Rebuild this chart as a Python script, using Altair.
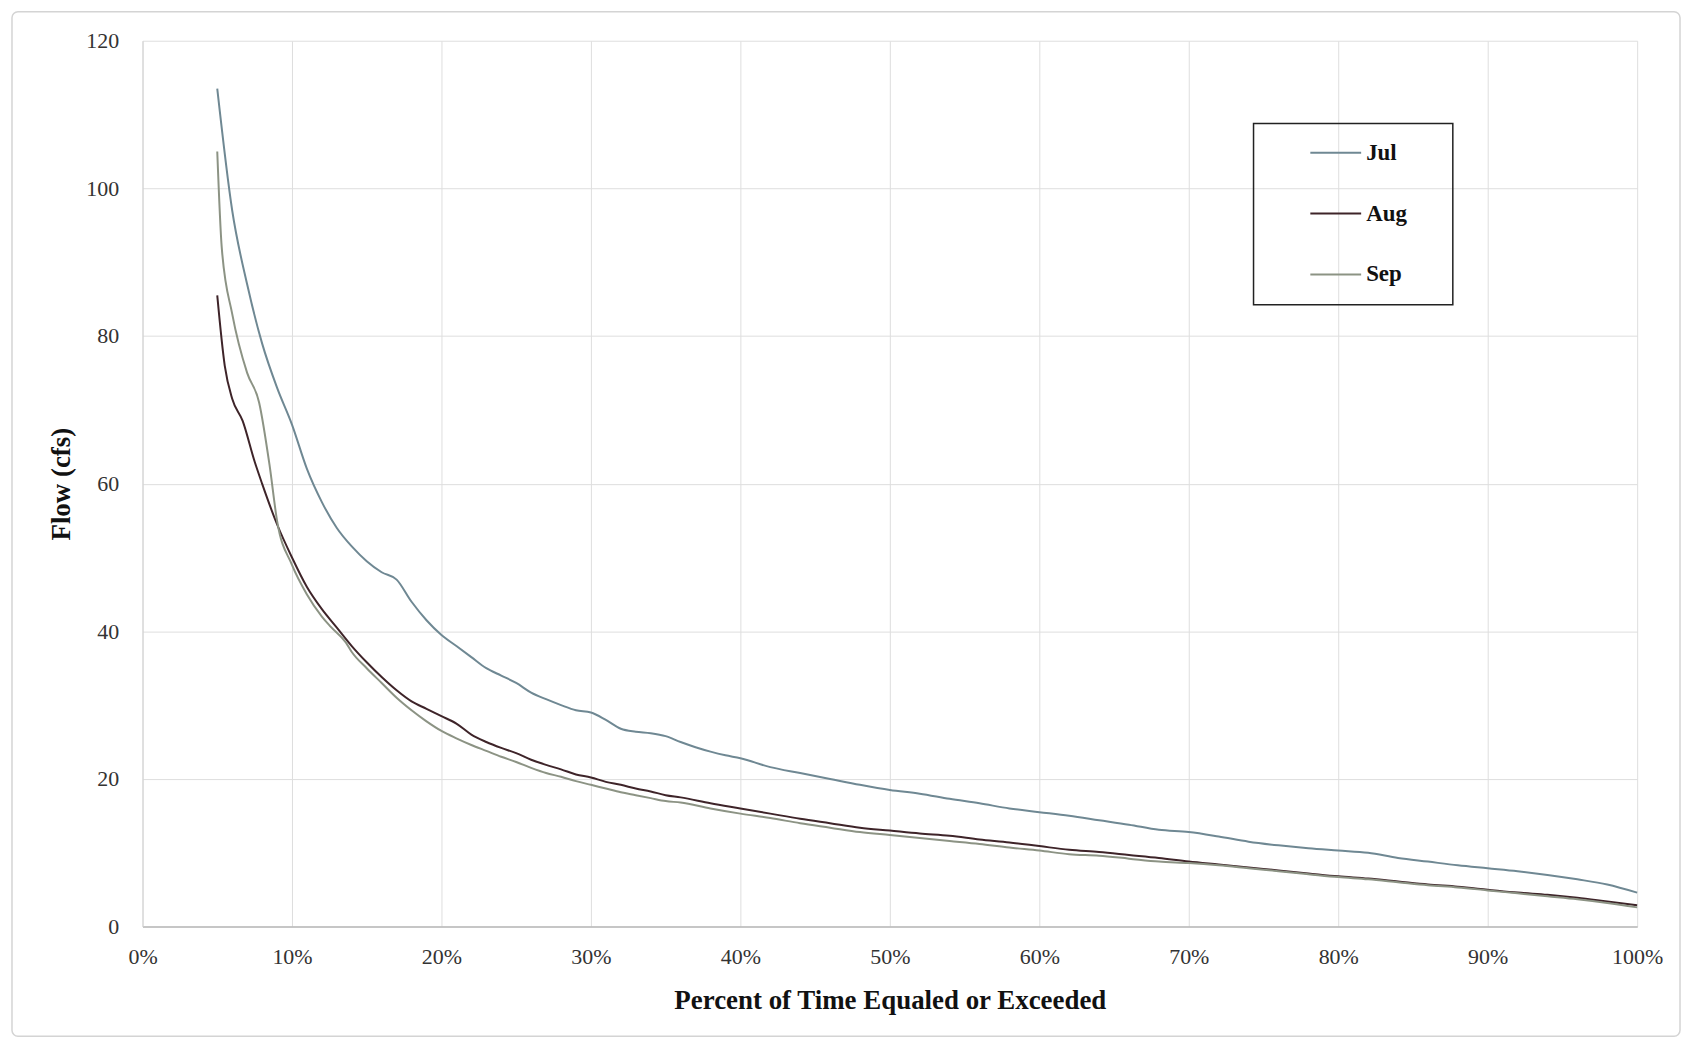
import altair as alt
import pandas as pd

# Percent of time equaled or exceeded (x, in %) and flow (cfs)
jul_x = [5, 6, 7, 8, 9, 10, 11, 12, 13, 14, 15, 16, 17, 18, 19, 20, 21, 22, 23, 24, 25,
         26, 27, 28, 29, 30, 31, 32, 33, 34, 35, 36, 37, 38, 39, 40, 42, 44, 46, 48, 50,
         52, 54, 56, 58, 60, 62, 64, 66, 68, 70, 72, 74, 76, 78, 80, 82, 84, 86, 88, 90,
         92, 94, 96, 98, 100]
jul_y = [113.5, 97, 87, 79, 73, 68, 62, 57.5, 54, 51.5, 49.5, 48, 47, 44, 41.5, 39.5, 38, 36.5, 35, 34, 33,
         31.7, 30.8, 30, 29.3, 29, 28, 26.8, 26.4, 26.2, 25.8, 25, 24.3, 23.7, 23.2, 22.8, 21.6, 20.8, 20, 19.2, 18.5,
         18, 17.3, 16.7, 16, 15.5, 15, 14.4, 13.8, 13.1, 12.8, 12.2, 11.5, 11, 10.6, 10.3, 10, 9.3, 8.8, 8.3, 7.9,
         7.5, 7, 6.4, 5.7, 4.6]

aug_x = [5, 5.5, 6, 6.7, 7.5, 8, 9, 10, 11, 12, 13, 14, 15, 16, 17, 18, 19, 20, 21, 22, 23,
         24, 25, 26, 27, 28, 29, 30, 31, 32, 33, 34, 35, 36, 38, 40, 42, 44, 46, 48, 50,
         52, 54, 56, 58, 60, 62, 64, 66, 68, 70, 72, 74, 76, 78, 80, 82, 84, 86, 88, 90,
         92, 94, 96, 98, 100]
aug_y = [85.5, 76, 71.5, 68.5, 63, 60, 54.5, 50, 46, 43, 40.5, 38, 35.8, 33.8, 32, 30.5, 29.5, 28.5, 27.5, 26, 25,
         24.2, 23.5, 22.6, 21.9, 21.3, 20.6, 20.2, 19.6, 19.2, 18.7, 18.3, 17.8, 17.5, 16.7, 16, 15.3, 14.6, 14, 13.4, 13,
         12.6, 12.3, 11.8, 11.4, 10.9, 10.4, 10.1, 9.7, 9.3, 8.8, 8.4, 8.0, 7.6, 7.2, 6.8, 6.5, 6.1, 5.7, 5.4, 5.0,
         4.6, 4.3, 3.9, 3.4, 2.9]

sep_x = [5, 5.3, 6, 7, 7.8, 8.5, 9, 10, 11, 12, 12.6, 13.6, 14, 15, 16, 17, 18, 19, 20, 21, 22, 23,
         24, 25, 26, 27, 28, 29, 30, 31, 32, 33, 34, 35, 36, 38, 40, 42, 44, 46, 48, 50,
         52, 54, 56, 58, 60, 62, 64, 66, 68, 70, 72, 74, 76, 78, 80, 82, 84, 86, 88, 90,
         92, 94, 96, 98, 100]
sep_y = [105, 92, 83, 75, 71, 62.5, 55, 49, 45, 42, 40.6, 38.5, 37.2, 35, 33, 31, 29.3, 27.8, 26.5, 25.5, 24.6, 23.8,
         23, 22.3, 21.5, 20.8, 20.3, 19.7, 19.2, 18.7, 18.2, 17.8, 17.4, 17, 16.8, 16, 15.3, 14.7, 14, 13.4, 12.8, 12.4,
         12, 11.6, 11.2, 10.7, 10.3, 9.8, 9.6, 9.2, 8.8, 8.6, 8.3, 7.9, 7.5, 7.1, 6.7, 6.4, 6.0, 5.6, 5.3, 4.9,
         4.5, 4.1, 3.7, 3.2, 2.6]

months = ["Jul", "Aug", "Sep"]
colors = ["#6f8893", "#3e2429", "#8c9384"]
x_ticks = [0, 0.1, 0.2, 0.3, 0.4, 0.5, 0.6, 0.7, 0.8, 0.9, 1.0]
y_ticks = [0, 20, 40, 60, 80, 100, 120]

rows = []
for name, xs, ys in [("Jul", jul_x, jul_y), ("Aug", aug_x, aug_y), ("Sep", sep_x, sep_y)]:
    for i, (a, b) in enumerate(zip(xs, ys)):
        rows.append({"Month": name, "pct": a / 100.0, "flow": b, "order": i})
df = pd.DataFrame(rows)

SERIF = "Liberation Serif"

lines = alt.Chart(df).mark_line(strokeWidth=2, interpolate="monotone").encode(
    x=alt.X("pct:Q",
            scale=alt.Scale(domain=[0, 1], nice=False),
            axis=alt.Axis(values=x_ticks, format=".0%", title="Percent of Time Equaled or Exceeded",
                          labelPadding=20, titlePadding=20, ticks=False, labelFlush=False,
                          grid=True, gridColor="#dedede", domainColor="#b8b8b8", domainWidth=1.5)),
    y=alt.Y("flow:Q",
            scale=alt.Scale(domain=[0, 120], nice=False),
            axis=alt.Axis(values=y_ticks, title="Flow (cfs)", labelPadding=24, titlePadding=10,
                          ticks=False, grid=True, gridColor="#dedede", domainColor="#d0d0d0",
                          labelFlush=False)),
    color=alt.Color("Month:N",
                    scale=alt.Scale(domain=months, range=colors),
                    sort=months,
                    legend=alt.Legend(title=None, orient="none", legendX=1110, legendY=74,
                                      symbolType="stroke", symbolSize=2601, symbolStrokeWidth=2,
                                      symbolOffset=49, labelOffset=4, rowPadding=22, padding=12,
                                      labelFont=SERIF, labelFontSize=23,
                                      labelFontWeight="bold", labelColor="#111111")),
    order="order:Q",
)

frame = alt.Chart(pd.DataFrame({"k": [0]})).mark_rect(
    fill=None, stroke="#d4d4d4", strokeWidth=1.5, cornerRadius=6
).encode(x=alt.value(-131), x2=alt.value(1543), y=alt.value(-29), y2=alt.value(999))

legend_box = alt.Chart(pd.DataFrame({"k": [0]})).mark_rect(
    fill=None, stroke="#222222", strokeWidth=1.5
).encode(x=alt.value(1115), x2=alt.value(1315), y=alt.value(83), y2=alt.value(265))

chart = alt.layer(frame, lines, legend_box).properties(
    width=1500, height=889,
    padding={"left": 135, "top": 31, "right": 45, "bottom": 115},
    autosize=alt.AutoSizeParams(type="none"),
).configure_view(stroke=None).configure_axis(
    labelFont=SERIF, labelFontSize=22, labelColor="#333333",
    titleFont=SERIF, titleFontSize=27, titleFontWeight="bold", titleColor="#111111",
)

chart.save("out.html", embed_options={"renderer": "svg", "actions": False})
